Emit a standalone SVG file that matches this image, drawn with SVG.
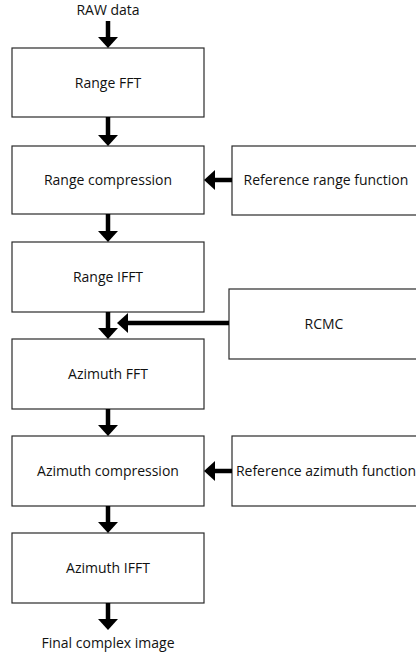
<svg xmlns="http://www.w3.org/2000/svg" width="416" height="659" viewBox="0 0 416 659">
<style>
.box{fill:#fff;stroke:#2a2a2a;stroke-width:1.2}
.lbl{font-family:"Open Sans","Liberation Sans",sans-serif;font-size:14px;fill:#111;text-anchor:middle}
.conn{stroke:#000;stroke-width:4.5;fill:none;marker-end:url(#ah)}
</style>
<defs>
<marker id="ah" markerUnits="userSpaceOnUse" markerWidth="11" markerHeight="20" viewBox="0 0 11 20" refX="0" refY="10" orient="auto">
<path d="M0,0 L11,10 L0,20 z" fill="#000"/>
</marker>
</defs>
<rect width="416" height="659" fill="#fff"/>
<g id="raw"><text class="lbl" x="108" y="15">RAW data</text></g>
<g id="range-fft"><rect class="box" x="12" y="48" width="192" height="69"/><text class="lbl" x="108" y="87.5">Range FFT</text></g>
<g id="range-comp"><rect class="box" x="12" y="146" width="192" height="68"/><text class="lbl" x="108" y="185">Range compression</text></g>
<g id="ref-range"><rect class="box" x="232" y="146" width="192" height="69"/><text class="lbl" x="326" y="185">Reference range function</text></g>
<g id="range-ifft"><rect class="box" x="12" y="242" width="192" height="70"/><text class="lbl" x="108" y="282">Range IFFT</text></g>
<g id="rcmc"><rect class="box" x="229" y="289" width="195" height="70"/><text class="lbl" x="324" y="329">RCMC</text></g>
<g id="az-fft"><rect class="box" x="12" y="339" width="192" height="70"/><text class="lbl" x="108" y="379">Azimuth FFT</text></g>
<g id="az-comp"><rect class="box" x="12" y="436" width="192" height="70"/><text class="lbl" x="108" y="476">Azimuth compression</text></g>
<g id="ref-az"><rect class="box" x="232" y="436" width="192" height="70"/><text class="lbl" x="326" y="476">Reference azimuth function</text></g>
<g id="az-ifft"><rect class="box" x="12" y="533" width="192" height="70"/><text class="lbl" x="108" y="573">Azimuth IFFT</text></g>
<g id="final"><text class="lbl" x="108" y="648">Final complex image</text></g>
<g id="connectors">
<line class="conn" x1="108" y1="21" x2="108" y2="37"/>
<line class="conn" x1="108" y1="117" x2="108" y2="135"/>
<line class="conn" x1="108" y1="214" x2="108" y2="231"/>
<line class="conn" x1="108" y1="312" x2="108" y2="328"/>
<line class="conn" x1="108" y1="409" x2="108" y2="425"/>
<line class="conn" x1="108" y1="506" x2="108" y2="522"/>
<line class="conn" x1="108" y1="603" x2="108" y2="619"/>
<line class="conn" x1="232" y1="180" x2="215" y2="180"/>
<line class="conn" x1="229" y1="323" x2="128" y2="323"/>
<line class="conn" x1="232" y1="471" x2="215" y2="471"/>
</g>
</svg>
